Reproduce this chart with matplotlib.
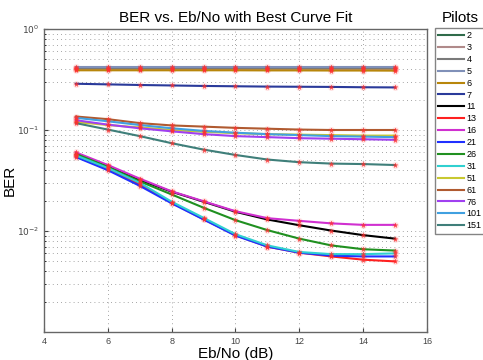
import matplotlib
matplotlib.use("Agg")
import matplotlib.pyplot as plt
import numpy as np

plt.rcParams['font.family'] = ['Liberation Sans', 'DejaVu Sans']

ebno = [5, 6, 7, 8, 9, 10, 11, 12, 13, 14, 15]
pilots = ['2', '3', '4', '5', '6', '7', '11', '13', '16', '21', '26', '31', '51', '61', '76', '101', '151']
colors = ['#2f6b4a', '#b08a8a', '#7a7a7a', '#8090b8', '#b8860b', '#2a3a9a', '#000000', '#ff2020',
          '#d030d0', '#2030ff', '#209020', '#30d0d0', '#c8c830', '#b05a30', '#a040f0', '#40a0e0', '#3f7f7a']

ber_2 = [0.400, 0.400, 0.400, 0.400, 0.400, 0.400, 0.400, 0.400, 0.400, 0.400, 0.400]
ber_3 = [0.405, 0.405, 0.405, 0.405, 0.405, 0.405, 0.405, 0.405, 0.405, 0.405, 0.405]
ber_4 = [0.412, 0.412, 0.412, 0.412, 0.412, 0.412, 0.412, 0.412, 0.412, 0.412, 0.412]
ber_5 = [0.425, 0.425, 0.425, 0.425, 0.425, 0.425, 0.425, 0.425, 0.425, 0.425, 0.425]
ber_6 = [0.390, 0.390, 0.390, 0.390, 0.390, 0.390, 0.389, 0.389, 0.388, 0.388, 0.387]
ber_7 = [0.287, 0.283, 0.279, 0.276, 0.273, 0.271, 0.269, 0.268, 0.267, 0.265, 0.264]
ber_11 = [0.057, 0.044, 0.032, 0.0245, 0.0195, 0.0155, 0.0130, 0.0114, 0.0101, 0.0091, 0.0084]
ber_13 = [0.055, 0.041, 0.029, 0.0190, 0.0131, 0.0091, 0.0070, 0.0061, 0.0056, 0.0052, 0.0050]
ber_16 = [0.060, 0.045, 0.033, 0.0247, 0.0197, 0.0157, 0.0134, 0.0126, 0.0119, 0.0115, 0.0115]
ber_21 = [0.054, 0.040, 0.028, 0.0188, 0.0130, 0.0090, 0.0070, 0.0061, 0.0057, 0.0056, 0.0056]
ber_26 = [0.058, 0.043, 0.031, 0.0230, 0.0170, 0.0128, 0.0102, 0.0084, 0.0072, 0.0066, 0.0064]
ber_31 = [0.056, 0.042, 0.030, 0.0195, 0.0135, 0.0093, 0.0072, 0.0062, 0.0059, 0.0059, 0.0060]
ber_51 = [0.120, 0.112, 0.106, 0.100, 0.096, 0.093, 0.091, 0.090, 0.089, 0.088, 0.088]
ber_61 = [0.136, 0.128, 0.117, 0.111, 0.108, 0.105, 0.103, 0.101, 0.100, 0.100, 0.100]
ber_76 = [0.125, 0.113, 0.104, 0.097, 0.091, 0.087, 0.085, 0.083, 0.082, 0.081, 0.080]
ber_101 = [0.132, 0.122, 0.112, 0.104, 0.098, 0.094, 0.091, 0.089, 0.087, 0.086, 0.085]
ber_151 = [0.117, 0.101, 0.087, 0.074, 0.064, 0.0566, 0.051, 0.048, 0.0465, 0.046, 0.045]

series = [ber_2, ber_3, ber_4, ber_5, ber_6, ber_7, ber_11, ber_13, ber_16, ber_21,
          ber_26, ber_31, ber_51, ber_61, ber_76, ber_101, ber_151]

fig = plt.figure(figsize=(4.83, 3.6), dpi=100)
ax = fig.add_axes([44/483, 1-332/360, (427-44)/483, (332-29)/360])

handles = []
for lab, col, ys in zip(pilots, colors, series):
    ax.plot(ebno, ys, 'o', color='#ffb0b0', markersize=5, alpha=0.35, markeredgewidth=0, zorder=2)
    ax.plot(ebno, ys, '*', color='#ff3030', markersize=3.5, markeredgewidth=0.3, alpha=0.8, zorder=4)
    h, = ax.plot(ebno, ys, '-', color=col, lw=1.5, zorder=3, label=lab)
    handles.append(h)

ax.set_yscale('log')
ax.set_xlim(4, 16)
ax.set_ylim(1e-3, 1)
ax.set_xticks([4, 6, 8, 10, 12, 14, 16])
ax.set_yticks([1e-2, 1e-1, 1])
ax.set_yticklabels([r'$10^{-2}$', r'$10^{-1}$', r'$10^{0}$'])
ax.tick_params(axis='both', labelsize=6.5, direction='in', length=3, colors='#444444')
ax.tick_params(axis='y', which='minor', direction='in', length=1.5)
ax.yaxis.set_minor_formatter(matplotlib.ticker.NullFormatter())
ax.grid(True, which='major', linestyle=(0, (1, 4)), color='#888888', lw=0.6)
ax.grid(True, which='minor', axis='y', linestyle=(0, (1, 4)), color='#888888', lw=0.6)
for s in ax.spines.values():
    s.set_color('#666666')
    s.set_linewidth(1.0)

ax.set_title('BER vs. Eb/No with Best Curve Fit', fontsize=11, pad=5)
ax.set_xlabel('Eb/No (dB)', fontsize=11, labelpad=1)
ax.set_ylabel('BER', fontsize=11)
ax.yaxis.set_label_coords(-0.07, 0.5)

leg = fig.legend(handles=handles, loc='upper left', bbox_to_anchor=(435/483, 1-28/360),
                 fontsize=6.5, frameon=True, fancybox=False, handlelength=2.9, handletextpad=0.25,
                 labelspacing=0.32, borderpad=0.35, borderaxespad=0)
leg.get_frame().set_edgecolor('#666666')
leg.get_frame().set_linewidth(1.0)
fig.text(460/483, 1-18/360, 'Pilots', fontsize=11, ha='center', va='center')

fig.savefig('out.png', dpi=100)
